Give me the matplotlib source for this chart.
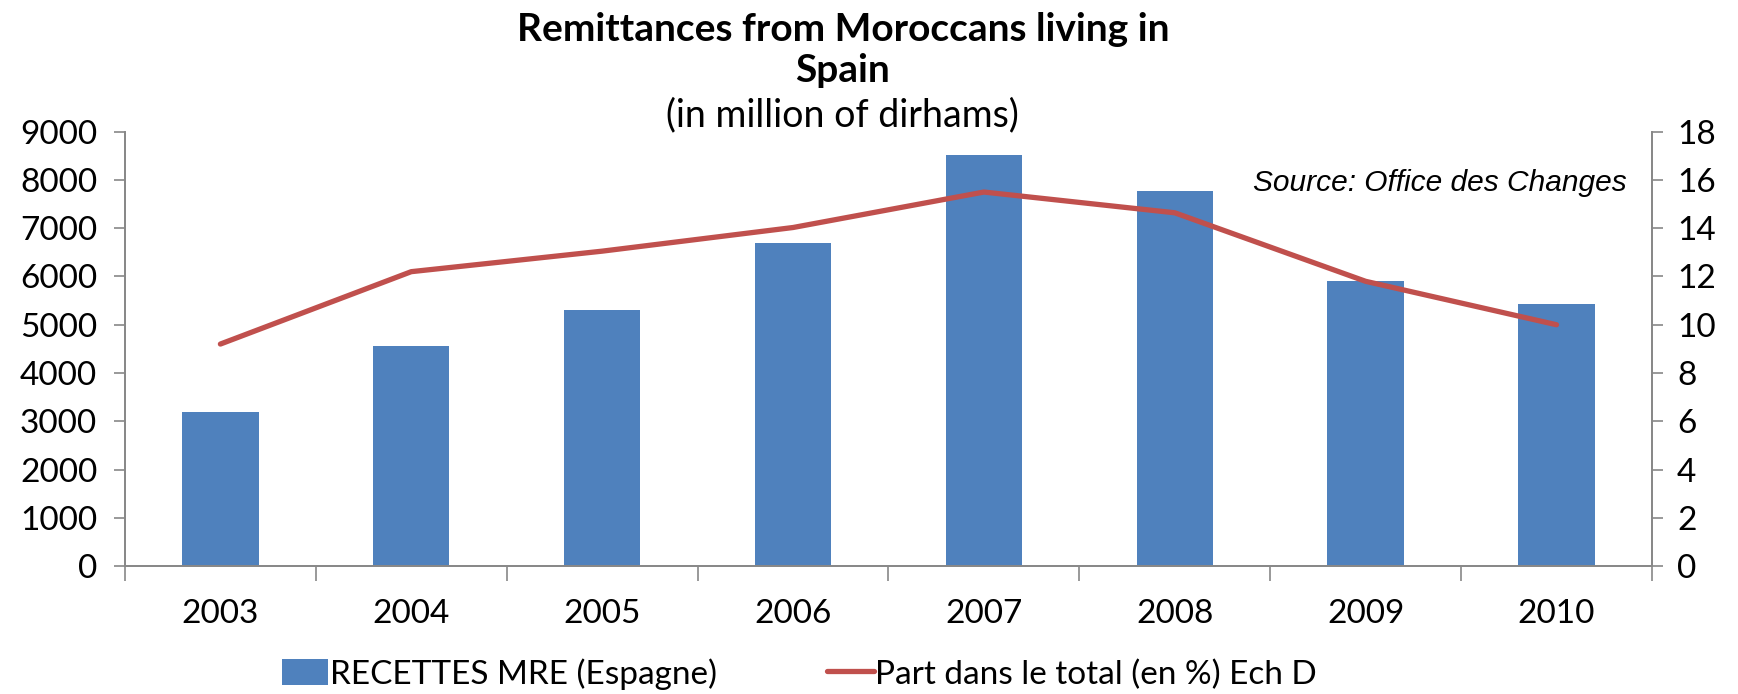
import numpy as np
import matplotlib
matplotlib.use("Agg")
import matplotlib.pyplot as plt
from matplotlib.ticker import FixedLocator, NullFormatter

plt.rcParams['font.family'] = ['Lato', 'DejaVu Sans']

# data
years = ['2003', '2004', '2005', '2006', '2007', '2008', '2009', '2010']
recettes = [3190, 4560, 5300, 6700, 8510, 7770, 5900, 5440]
part_total = [9.2, 12.2, 13.05, 14.03, 15.5, 14.64, 11.8, 10.0]

blue = '#4F81BD'
red = '#C0504D'
grey = '#888888'

fig = plt.figure(figsize=(17.38, 6.94), dpi=100)
ax = fig.add_axes([0.0719, 0.1844, 0.8786, 0.6258])
ax2 = ax.twinx()

x = np.arange(len(years))
bars = ax.bar(x, recettes, width=0.4, color=blue, zorder=2,
              label='RECETTES MRE (Espagne)')
line, = ax2.plot(x, part_total, color=red, lw=3.8, solid_capstyle='round',
                 label='Part dans le total (en %) Ech D')

ax.set_xlim(-0.5, len(years) - 0.5)
ax.set_ylim(0, 9000)
ax2.set_ylim(0, 18)
ax.set_yticks(range(0, 9001, 1000))
ax2.set_yticks(range(0, 19, 2))

# category labels in the middle, tick marks on the boundaries
ax.set_xticks(x)
ax.set_xticklabels(years)
ax.xaxis.set_minor_locator(FixedLocator(np.arange(-0.5, len(years), 1)))
ax.xaxis.set_minor_formatter(NullFormatter())
ax.tick_params(axis='x', which='major', length=0, pad=24, labelsize=24)
ax.tick_params(axis='x', which='minor', length=11, width=1.2, color=grey)
ax.tick_params(axis='y', length=8, width=1.2, color=grey, pad=12, labelsize=24)
ax2.tick_params(axis='y', length=8, width=1.2, color=grey, pad=10, labelsize=24)

for a in (ax, ax2):
    a.spines['top'].set_visible(False)
    for s in ('left', 'right', 'bottom'):
        a.spines[s].set_color(grey)
        a.spines[s].set_linewidth(1.3)

ax.set_zorder(1)
ax2.set_zorder(2)
ax.patch.set_visible(False)

fig.text(0.485, 0.957, 'Remittances from Moroccans living in', ha='center',
         va='center', fontsize=28, fontweight='bold')
fig.text(0.485, 0.898, 'Spain', ha='center', va='center', fontsize=28,
         fontweight='bold')
fig.text(0.485, 0.834, '(in million of dirhams)', ha='center', va='center',
         fontsize=27)

ax2.text(0.9836, 0.882, 'Source: Office des Changes', transform=ax2.transAxes,
         ha='right', va='center', fontsize=21.5, style='italic',
         family='Liberation Sans')

fig.legend(handles=[bars, line], loc='center', bbox_to_anchor=(0.460, 0.029),
           ncol=2, frameon=False, fontsize=24, columnspacing=3.3,
           handlelength=1.4, handleheight=0.85, handletextpad=0.05)

fig.savefig('out.png', dpi=100)
